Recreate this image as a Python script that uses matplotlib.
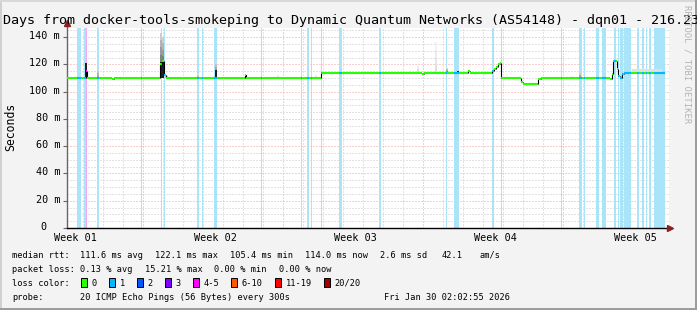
import matplotlib
matplotlib.use("Agg")
import matplotlib.pyplot as plt
from matplotlib.patches import Rectangle
import numpy as np

# ---- data (days since left edge, ms) ----
med_day = [0.00, 0.94, 1.00, 2.25, 2.35, 4.65, 4.75, 4.85, 4.95, 8.90, 8.97,
           12.70, 17.73, 17.85, 20.05, 20.15, 21.23, 21.35, 21.45, 21.55, 21.65,
           21.72, 22.71, 22.82, 22.93, 23.00, 23.57, 23.68, 27.17, 27.23, 27.30,
           27.48, 27.56, 27.65, 27.73, 27.85, 27.95]
med_ms = [110.3, 115.0, 110.3, 109.2, 110.3, 120.6, 122.3, 112.0, 110.3, 112.5, 110.3,
          114.1, 113.3, 114.1, 115.2, 114.1, 115.5, 116.5, 118.5, 120.3, 121.4,
          110.4, 107.3, 106.0, 105.4, 106.0, 109.2, 110.4, 109.2, 113.3, 122.3,
          117.0, 111.6, 110.4, 113.3, 113.6, 114.0]
med_end = 29.90

loss_start = [0.52, 0.85, 0.94, 1.49, 3.69, 4.70, 4.87, 6.49, 6.74, 7.35, 9.70, 11.70,
              11.99, 12.20, 12.70, 13.60, 15.60, 18.95, 19.35, 21.24, 21.69, 24.70,
              25.59, 25.85, 26.45, 26.75, 26.87, 27.35, 27.54, 27.67, 27.87, 28.50,
              28.75, 28.94, 29.10, 29.35]
loss_end = [0.70, 0.94, 1.00, 1.60, 3.75, 4.77, 4.92, 6.62, 6.79, 7.50, 9.75, 11.77,
            12.10, 12.25, 12.75, 13.75, 15.70, 19.02, 19.60, 21.35, 21.75, 24.77,
            25.77, 25.92, 26.60, 26.85, 26.95, 27.47, 27.60, 27.79, 28.20, 28.62,
            28.87, 29.00, 29.22, 29.90]
loss_pings = [1, 1, 4, 1, 1, 1, 1, 1, 1, 1, 1, 1,
              1, 1, 1, 1, 1, 1, 1, 1, 1, 1,
              1, 1, 1, 1, 1, 1, 1, 1, 1, 1,
              1, 1, 1, 1]

smoke_day = [0.90, 1.50, 4.65, 4.75, 4.85, 4.95, 6.50, 7.40, 8.90, 10.50, 12.40,
             17.00, 17.50, 18.40, 18.95, 19.50, 25.20, 25.60]
smoke_lo = [110.3, 110.3, 110.3, 110.3, 110.3, 110.3, 110.3, 110.3, 110.3, 110.3, 110.3,
            114.1, 114.1, 114.1, 114.1, 114.1, 110.4, 110.4]
smoke_mid = [121.0, 110.3, 122.0, 122.0, 110.3, 110.3, 110.3, 116.0, 112.5, 110.3, 110.3,
             114.1, 114.1, 114.1, 114.1, 115.5, 110.4, 110.4]
smoke_hi = [121.0, 116.5, 143.0, 140.0, 113.0, 112.0, 113.0, 122.0, 112.5, 112.0, 112.0,
            115.0, 119.0, 136.5, 117.4, 115.5, 111.6, 114.5]
smoke_density = [1.0, 0.6, 0.8, 0.8, 0.3, 0.3, 0.5, 0.6, 1.0, 0.2, 0.2,
                 0.2, 0.25, 0.2, 0.7, 1.0, 0.2, 0.6]
tail_smoke_day = [28.25, 29.75]
tail_smoke_lo = 114.0
tail_smoke_hi = 116.6

week_label_day = [0.4, 7.4, 14.4, 21.4, 28.4]
week_labels = ["Week 01", "Week 02", "Week 03", "Week 04", "Week 05"]
ytick_ms = [0, 20, 40, 60, 80, 100, 120, 140]

loss_labels = ["0", "1", "2", "3", "4-5", "6-10", "11-19", "20/20"]
loss_lower = [0, 1, 2, 3, 4, 6, 11, 20]
loss_colors = ["#26ff00", "#00b8ff", "#0059ff", "#7e00ff", "#ff00ff", "#ff5500", "#ff0000", "#a10000"]
loss_bg = ["#ffffff", "#a9e4f9", "#aac8ff", "#d2aaff", "#f6a6f6", "#ffc8aa", "#ffaaaa", "#e0aaaa"]

rtt_avg, rtt_max, rtt_min, rtt_now, rtt_sd, rtt_ams = 111.6, 122.1, 105.4, 114.0, 2.6, 42.1
pl_avg, pl_max, pl_min, pl_now = 0.13, 15.21, 0.00, 0.00
title = "Days from docker-tools-smokeping to Dynamic Quantum Networks (AS54148) - dqn01 - 216.23"
probe = "20 ICMP Echo Pings (56 Bytes) every 300s"
stamp = "Fri Jan 30 02:02:55 2026"

W, H = 697, 310
MONO = "DejaVu Sans Mono"


def loss_class(n):
    idx = 0
    for i, lo in enumerate(loss_lower):
        if n >= lo:
            idx = i
    return idx


def fx(px):
    return px / W


def fy(py):
    return 1 - py / H


fig = plt.figure(figsize=(W / 100, H / 100), dpi=100, facecolor="#f3f3f3")
ax = fig.add_axes([fx(67), fy(228), fx(669 - 67), (228 - 27.7) / H])
ax.set_facecolor("white")
ax.set_xlim(0, 30.1)
ax.set_ylim(0, 147)

# grid
dot = (0, (1, 2))
for d in np.arange(0.8, 30.1, 1.0):
    major = abs((d - 3.8) / 7 - round((d - 3.8) / 7)) < 1e-6
    ax.axvline(d, color="#f0a0a0" if major else "#c8c8c8", lw=0.72, ls=dot, zorder=0.5)
for v in range(5, 147, 5):
    ax.axhline(v, color="#f0a0a0" if v % 20 == 0 else "#c8c8c8", lw=0.72, ls=dot, zorder=0.5)

# loss background
for s, e, n in zip(loss_start, loss_end, loss_pings):
    ax.axvspan(s, e, color=loss_bg[loss_class(n)], lw=0, zorder=1, antialiased=False)

# smoke
bw = 0.1
for d, lo, mid, hi, dens in zip(smoke_day, smoke_lo, smoke_mid, smoke_hi, smoke_density):
    if mid > lo:
        ax.bar(d, mid - lo, bottom=lo, width=bw, align="edge", color="#1e1e1e", lw=0, zorder=2)
    if hi > mid:
        base = 1 - 0.62 * dens
        nb = 4
        step = (hi - mid) / nb
        for j in range(nb):
            g = base + (1 - base) * 0.8 * j / nb
            ax.bar(d, step, bottom=mid + j * step, width=bw, align="edge",
                   color=(g, g, g), lw=0, zorder=2)
ax.fill_between(tail_smoke_day, tail_smoke_lo, tail_smoke_hi, color="#e0e0e0", lw=0, zorder=2)

# median
starts = med_day
ends = med_day[1:] + [med_end]
ax.vlines(med_day[1:], med_ms[:-1], med_ms[1:], colors="black", lw=0.8, zorder=3)
ax.hlines(med_ms, starts, ends, colors=loss_colors[0], lw=1.5, zorder=3.2)
for s, e, n in zip(loss_start, loss_end, loss_pings):
    seg = ax.hlines(med_ms, starts, ends, colors=loss_colors[loss_class(n)], lw=1.5, zorder=3.4)
    seg.set_clip_path(Rectangle((s, 0), e - s, 200, transform=ax.transData))

# axes
for side in ["top", "right"]:
    ax.spines[side].set_visible(False)
ax.spines["left"].set_color("#666666")
ax.spines["left"].set_linewidth(1.0)
ax.spines["left"].set_bounds(0, 150)
ax.spines["bottom"].set_color("black")
ax.spines["bottom"].set_linewidth(1.0)
ax.set_xticks([])
ax.set_yticks(ytick_ms)
ax.tick_params(axis="y", length=3, width=0.8, color="#666666", labelleft=False)
ax.plot([0], [1.025], marker="^", ms=4.5, color="#8b2020", transform=ax.transAxes,
        clip_on=False, zorder=5)
ax.plot([1.002], [0], marker=">", ms=4.5, color="#8b2020", transform=ax.transAxes,
        clip_on=False, zorder=5)

for v in ytick_ms:
    lab = f"{v} m" if v else "0"
    dx = -7 if v else -20.3
    ax.annotate(lab, xy=(0, v), xycoords=("axes fraction", "data"), xytext=(dx, -2),
                textcoords="offset pixels", ha="right", va="baseline",
                family=MONO, fontsize=7.3)
for d, lab in zip(week_label_day, week_labels):
    ax.annotate(lab, xy=(d, 0), xycoords=("data", "axes fraction"), xytext=(0, -12.7),
                textcoords="offset pixels", ha="center", va="baseline",
                family=MONO, fontsize=7.3)

# texts
fig.text(fx(3), fy(24), title, family=MONO, fontsize=9.6, va="baseline", ha="left")
fig.text(fx(10.3), fy(127), "Seconds", family=MONO, fontsize=8.3, rotation=90,
         ha="center", va="center")
fig.text(fx(687.5), fy(5), "RRDTOOL / TOBI OETIKER", family=MONO, fontsize=6.4,
         rotation=270, ha="center", va="top", color="#b4b4b4")

lf = 6.25
cw = 5.23


def ltext(x, y, s, **kw):
    fig.text(fx(x), fy(y), s, family=MONO, fontsize=lf, va="baseline", **kw)


row1 = [(12, "median rtt:"), (80.2, f"{rtt_avg:.1f} ms avg"), (155.2, f"{rtt_max:.1f} ms max"),
        (230.2, f"{rtt_min:.1f} ms min"), (305.2, f"{rtt_now:.1f} ms now"),
        (379.5, f"{rtt_sd:.1f} ms sd"), (441.2, f"{rtt_ams:.1f}"), (479.5, "am/s")]
for x, s in row1:
    ltext(x, 257.7, s)
row2 = [(12, "packet loss:"), (80.2, f"{pl_avg:.2f} % avg"), (145.2, f"{pl_max:.2f} % max"),
        (214.5, f"{pl_min:.2f} % min"), (278.8, f"{pl_now:.2f} % now")]
for x, s in row2:
    ltext(x, 271.7, s)

ltext(12, 285.7, "loss color:")
bx = 81.0
for lab, col in zip(loss_labels, loss_colors):
    fig.patches.append(Rectangle((fx(bx), fy(286.7)), 6.3 / W, 9 / H, transform=fig.transFigure,
                                 facecolor=col, edgecolor="black", lw=0.7, figure=fig))
    ltext(bx + 10.8, 285.7, lab)
    bx = bx + 11.3 + len(lab) * cw + 11.4

ltext(12, 299.5, "probe:")
ltext(80.2, 299.5, probe)
ltext(510.5, 299.5, stamp, ha="right")

# frame
fig.patches.append(Rectangle((0, 0), 2 / W, 1, transform=fig.transFigure, color="#d0d0d0", lw=0, figure=fig))
fig.patches.append(Rectangle((0, 1 - 2 / H), 1, 2 / H, transform=fig.transFigure, color="#d8d8d8", lw=0, figure=fig))
fig.patches.append(Rectangle((1 - 2 / W, 0), 2 / W, 1, transform=fig.transFigure, color="#9c9c9c", lw=0, figure=fig))
fig.patches.append(Rectangle((0, 0), 1, 2 / H, transform=fig.transFigure, color="#9c9c9c", lw=0, figure=fig))

fig.savefig("out.png", dpi=100, facecolor=fig.get_facecolor())
plt.close(fig)
